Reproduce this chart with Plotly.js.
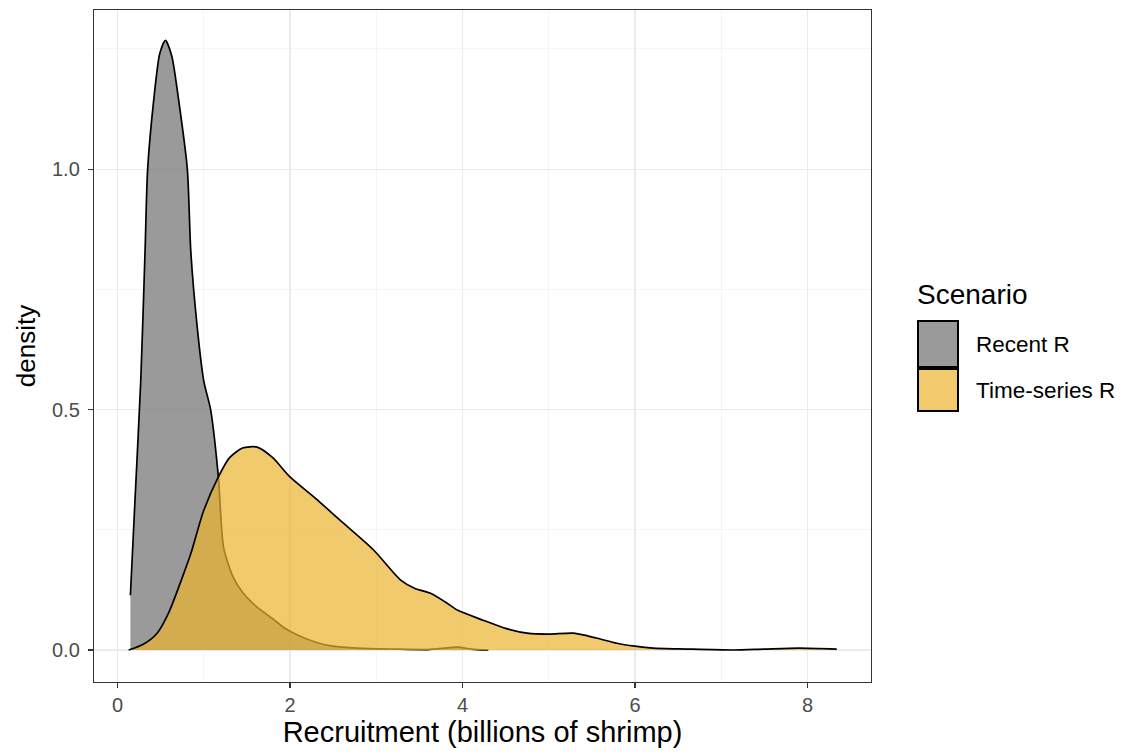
<!DOCTYPE html>
<html><head><meta charset="utf-8">
<script src="https://cdn.plot.ly/plotly-3.0.1.min.js"></script>
<style>body{margin:0;background:#fff}#chart{width:1128px;height:754px}</style>
</head><body><div id="chart"></div>
<script>
const seriesNames = ["Recent R", "Time-series R"];
const recentX = [0.15,0.2,0.27,0.32,0.35,0.42,0.49,0.556,0.63,0.71,0.81,0.85,0.92,1.0,1.08,1.17,1.23,1.34,1.45,1.62,1.8,1.92,2.1,2.32,2.5,2.78,3.2,3.6,3.95,4.1,4.3];
const recentY = [0.114,0.3,0.56,0.83,1.0,1.143,1.24,1.268,1.235,1.143,1.0,0.83,0.68,0.56,0.5,0.36,0.214,0.152,0.12,0.089,0.065,0.048,0.03,0.015,0.008,0.004,0.002,0.001,0.006,0.002,0.0];
const seriesX = [0.13,0.3,0.46,0.6,0.75,0.85,1.0,1.17,1.3,1.45,1.62,1.8,2.0,2.3,2.58,2.97,3.28,3.45,3.63,3.8,3.94,4.24,4.5,4.75,5.0,5.29,5.55,5.79,6.0,6.21,6.6,7.14,7.5,7.9,8.34];
const seriesY = [0.0,0.012,0.035,0.08,0.15,0.2,0.29,0.36,0.40,0.42,0.422,0.40,0.36,0.315,0.27,0.208,0.146,0.128,0.118,0.1,0.083,0.062,0.045,0.035,0.033,0.035,0.025,0.014,0.008,0.004,0.002,0.0,0.002,0.004,0.002];
const xTicks = [0,2,4,6,8];
const yTicks = [0,0.5,1.0];
const yTickText = ["0.0","0.5","1.0"];

const fills = ["rgba(120,120,120,0.75)","rgba(236,180,48,0.7)"];
const traces = [
  {x: recentX, y: recentY, name: seriesNames[0], type:"scatter", mode:"lines", fill:"tozeroy",
   fillcolor: fills[0], line:{color:"#000", width:1.7, shape:"spline", smoothing:0.7}},
  {x: seriesX, y: seriesY, name: seriesNames[1], type:"scatter", mode:"lines", fill:"tozeroy",
   fillcolor: fills[1], line:{color:"#000", width:1.7, shape:"spline", smoothing:0.7}}
];

const axFont = {family:"Liberation Sans, Arial, sans-serif", size:20, color:"#4d4d4d"};
const layout = {
  width:1128, height:754,
  margin:{l:94, r:257, t:10, b:72},
  paper_bgcolor:"#fff", plot_bgcolor:"#fff",
  showlegend:false,
  font:{family:"Liberation Sans, Arial, sans-serif"},
  xaxis:{range:[-0.272,8.737], tickvals:xTicks, ticktext:xTicks.map(String), tickfont:axFont,
    ticks:"outside", ticklen:5, tickcolor:"#333", tickwidth:1.2,
    showgrid:true, gridcolor:"#ebebeb", gridwidth:1.2,
    minor:{dtick:1, tick0:0, showgrid:true, gridcolor:"#f3f3f3", gridwidth:0.8, ticks:""},
    showline:true, linecolor:"#333", linewidth:1.2, mirror:true, zeroline:false, automargin:false,
    title:{text:"Recruitment (billions of shrimp)", font:{size:29, color:"#000"}, standoff:2}},
  yaxis:{range:[-0.0665,1.331], tickvals:yTicks, ticktext:yTickText, tickfont:axFont,
    ticks:"outside", ticklen:5, tickcolor:"#333", tickwidth:1.2, ticklabelstandoff:4,
    showgrid:true, gridcolor:"#ebebeb", gridwidth:1.2,
    minor:{dtick:0.25, tick0:0, showgrid:true, gridcolor:"#f3f3f3", gridwidth:0.8, ticks:""},
    showline:true, linecolor:"#333", linewidth:1.2, mirror:true, zeroline:false, automargin:false,
    title:{text:"density", font:{size:26, color:"#000"}, standoff:8}},
  shapes:[
    {type:"rect", xref:"paper", yref:"paper", x0:(918-94)/777, x1:(958-94)/777, y0:(682-367)/672, y1:(682-321)/672,
     fillcolor:fills[0], line:{color:"#000", width:2}},
    {type:"rect", xref:"paper", yref:"paper", x0:(918-94)/777, x1:(958-94)/777, y0:(682-411)/672, y1:(682-369)/672,
     fillcolor:fills[1], line:{color:"#000", width:2}}
  ],
  annotations:[
    {xref:"paper", yref:"paper", x:(915-94)/777, y:(682-294)/672, xanchor:"left", yanchor:"middle", showarrow:false,
     text:"Scenario", font:{size:28, color:"#000"}},
    {xref:"paper", yref:"paper", x:(974-94)/777, y:(682-344)/672, xanchor:"left", yanchor:"middle", showarrow:false,
     text:seriesNames[0], font:{size:22.5, color:"#000"}},
    {xref:"paper", yref:"paper", x:(974-94)/777, y:(682-390)/672, xanchor:"left", yanchor:"middle", showarrow:false,
     text:seriesNames[1], font:{size:22.5, color:"#000"}}
  ]
};
Plotly.newPlot("chart", traces, layout, {displayModeBar:false, staticPlot:true});
</script></body></html>
